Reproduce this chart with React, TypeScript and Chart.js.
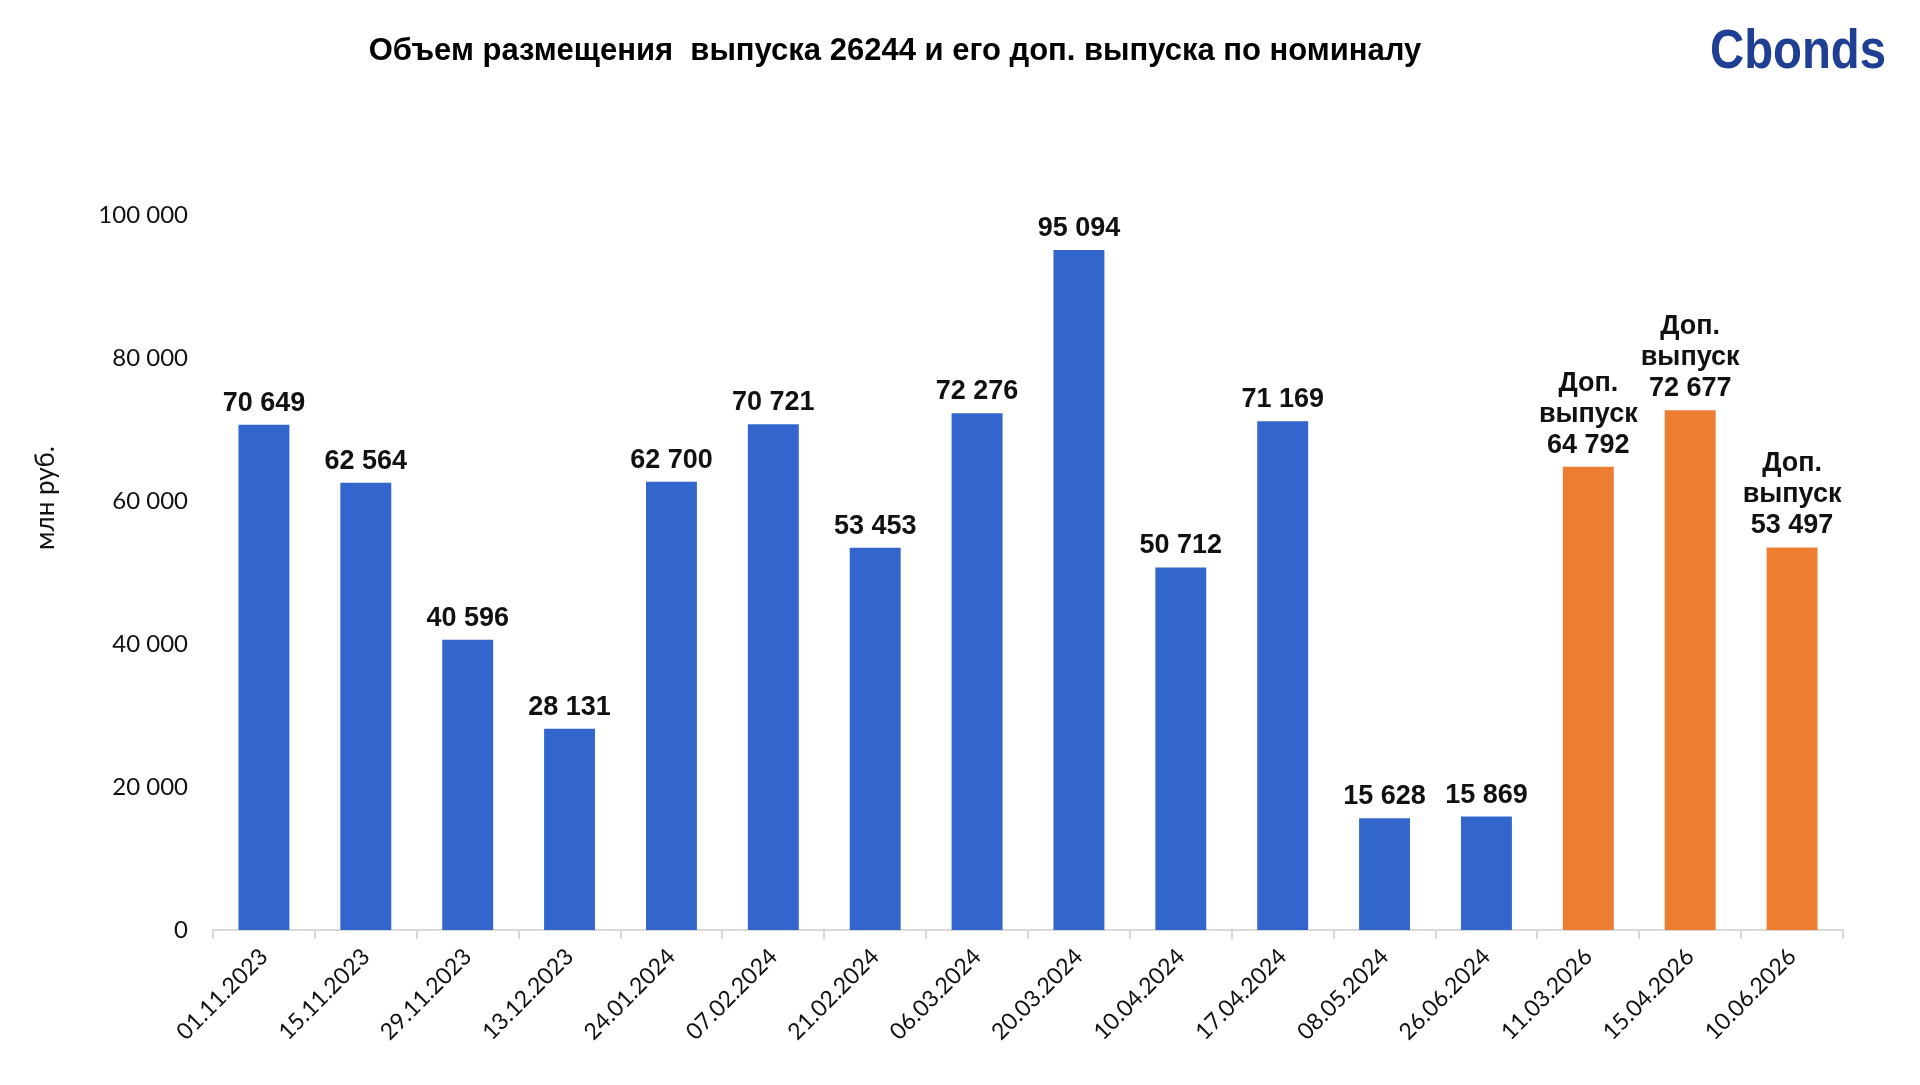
import React, { useRef, useEffect } from 'react';
import { Chart, registerables } from 'chart.js';

Chart.register(...registerables);

// даты размещения
const placementDates = [
  '01.11.2023', '15.11.2023', '29.11.2023', '13.12.2023', '24.01.2024', '07.02.2024',
  '21.02.2024', '06.03.2024', '20.03.2024', '10.04.2024', '17.04.2024', '08.05.2024',
  '26.06.2024', '11.03.2026', '15.04.2026', '10.06.2026',
];
// объем по номиналу, млн руб.
const placedVolumes = [
  70649, 62564, 40596, 28131, 62700, 70721, 53453, 72276, 95094, 50712, 71169, 15628,
  15869, 64792, 72677, 53497,
];
// доп. выпуск или нет
const isAdditional = [
  false, false, false, false, false, false, false, false, false, false, false, false,
  false, true, true, true,
];
const yTickValues = [0, 20000, 40000, 60000, 80000, 100000];

const chartTitle = 'Объем размещения  выпуска 26244 и его доп. выпуска по номиналу';
const yAxisTitle = 'млн руб.';
const additionalLines = ['Доп.', 'выпуск'];

const BLUE = '#3366cc';
const ORANGE = '#ed7d31';

const fmt = (v: number) => v.toLocaleString('ru-RU').replace(/\s/g, ' ');

const headerPlugin = {
  id: 'header',
  afterDraw(chart: Chart) {
    const ctx = chart.ctx;
    ctx.save();
    ctx.fillStyle = '#000';
    ctx.font = 'bold 31px "Liberation Sans", Arial, sans-serif';
    ctx.textAlign = 'center';
    ctx.textBaseline = 'alphabetic';
    ctx.fillText(chartTitle, 895, 60);

    // подпись оси Y
    ctx.save();
    ctx.translate(46, 498);
    ctx.rotate(-Math.PI / 2);
    ctx.font = '26px Lato, sans-serif';
    ctx.fillStyle = '#111';
    ctx.textBaseline = 'middle';
    ctx.fillText(yAxisTitle, 0, 0);
    ctx.restore();

    // логотип
    ctx.translate(1710, 68);
    ctx.scale(0.86, 1);
    ctx.font = 'bold 55px "Liberation Sans", Arial, sans-serif';
    ctx.textAlign = 'left';
    ctx.fillStyle = '#1f3f95';
    ctx.fillText('Cbonds', 0, 0);
    ctx.restore();
  },
};

const barLabelsPlugin = {
  id: 'barLabels',
  afterDatasetsDraw(chart: Chart) {
    const ctx = chart.ctx;
    const meta = chart.getDatasetMeta(0);
    ctx.save();
    ctx.font = 'bold 27px "Liberation Sans", Arial, sans-serif';
    ctx.fillStyle = '#111';
    ctx.textAlign = 'center';
    ctx.textBaseline = 'alphabetic';
    meta.data.forEach((bar: any, i: number) => {
      const lines = isAdditional[i]
        ? [...additionalLines, fmt(placedVolumes[i])]
        : [fmt(placedVolumes[i])];
      lines
        .slice()
        .reverse()
        .forEach((t, k) => ctx.fillText(t, bar.x, bar.y - 14 - k * 31));
    });
    ctx.restore();
  },
};

const App: React.FC = () => {
  const chartRef = useRef<HTMLCanvasElement | null>(null);
  const chartInstanceRef = useRef<Chart | null>(null);

  useEffect(() => {
    document.body.style.margin = '0';
    if (!chartRef.current) return;
    const ctx = chartRef.current.getContext('2d');
    if (!ctx) return;
    if (chartInstanceRef.current) chartInstanceRef.current.destroy();

    chartInstanceRef.current = new Chart(ctx, {
      type: 'bar',
      data: {
        labels: placementDates,
        datasets: [
          {
            data: placedVolumes,
            backgroundColor: isAdditional.map((a) => (a ? ORANGE : BLUE)),
            categoryPercentage: 1,
            barPercentage: 0.5,
          },
        ],
      },
      options: {
        animation: false,
        responsive: true,
        maintainAspectRatio: false,
        layout: { padding: { top: 215, right: 77, bottom: 0, left: 0 } },
        plugins: {
          legend: { display: false },
          tooltip: { enabled: false },
        },
        scales: {
          x: {
            grid: {
              drawOnChartArea: false,
              drawTicks: true,
              tickLength: 9,
              color: '#d9d9d9',
              lineWidth: 2,
            },
            border: { color: '#d9d9d9', width: 2 },
            ticks: {
              minRotation: 45,
              maxRotation: 45,
              autoSkip: false,
              padding: 4,
              color: '#111',
              font: { family: 'Lato', size: 23 },
            },
            afterFit: (scale: any) => {
              scale.height = 155;
            },
          },
          y: {
            min: 0,
            max: 100000,
            afterBuildTicks: (scale: any) => {
              scale.ticks = yTickValues.map((v) => ({ value: v }));
            },
            grid: { display: false, drawTicks: false },
            border: { display: false },
            ticks: {
              padding: 25,
              color: '#111',
              font: { family: 'Lato', size: 24 },
              callback: (v: any) => fmt(Number(v)),
            },
            afterFit: (scale: any) => {
              scale.width = 213;
            },
          },
        },
      },
      plugins: [headerPlugin, barLabelsPlugin],
    });

    return () => {
      if (chartInstanceRef.current) {
        chartInstanceRef.current.destroy();
        chartInstanceRef.current = null;
      }
    };
  }, []);

  return (
    <div style={{ width: '1920px', height: '1085px', background: '#fff' }}>
      <canvas ref={chartRef} />
    </div>
  );
};

export default App;
